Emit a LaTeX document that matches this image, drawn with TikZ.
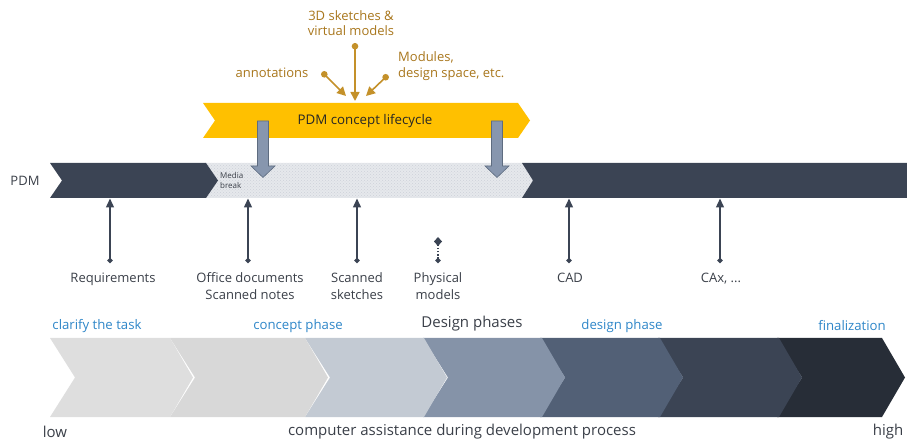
\documentclass[tikz,border=0pt]{standalone}
\usepackage{fontspec}
\setmainfont{Open Sans}
\usetikzlibrary{arrows.meta,patterns}
\definecolor{darkbar}{HTML}{3B4454}
\definecolor{labtext}{HTML}{3A3F48}
\definecolor{yel}{HTML}{FFC000}
\definecolor{gold}{HTML}{C4912A}
\definecolor{goldtext}{HTML}{A8761C}
\definecolor{phaseblue}{HTML}{2E86C8}
\definecolor{garrowfill}{HTML}{8796AE}
\definecolor{garrowline}{HTML}{5E6C80}
\definecolor{mbfill}{HTML}{E6E8EC}
\definecolor{dotcol}{HTML}{CDD2D9}
\definecolor{cA}{HTML}{DEDEDE}
\definecolor{cB}{HTML}{D8D8D8}
\definecolor{cC}{HTML}{C3CAD3}
\definecolor{cD}{HTML}{8593A8}
\definecolor{cE}{HTML}{526076}
\definecolor{cF}{HTML}{3B4454}
\definecolor{cG}{HTML}{272D37}
\tikzset{
  lab/.style={font=\fontsize{13}{16.5}\selectfont, text=labtext, align=center, inner sep=1pt},
  goldlab/.style={font=\fontsize{13}{15.5}\selectfont, text=goldtext, inner sep=1pt},
  phaselab/.style={font=\fontsize{13.2}{15}\selectfont, text=phaseblue, inner sep=1pt},
  bottomlab/.style={font=\fontsize{15}{17}\selectfont, text=labtext, inner sep=1pt},
  upconn/.style={draw=darkbar, line width=1.4pt, {Circle[length=5pt]}-{Triangle[length=9pt,width=8pt]}},
  dotconn/.style={draw=darkbar, line width=1.6pt, dash pattern=on 1.6pt off 1.6pt, {Circle[length=5pt]}-{Diamond[length=9pt,width=8pt,line cap=butt]}},
  goldconn/.style={draw=gold, line width=1.6pt, {Circle[length=6.5pt]}-{Stealth[length=9pt,width=9pt,inset=0pt]}},
  garrow/.style={fill=garrowfill, draw=garrowline, line width=0.6pt},
}
\newcommand{\chev}[3]{\fill[#3] (#1,338) -- (#2-23,338) -- (#2,377.5) -- (#2-23,417) -- (#1,417) -- (#1+25,377.5) -- cycle;}
\begin{document}
\begin{tikzpicture}[x=1pt,y=-1pt]
\useasboundingbox (0,0) rectangle (907,443);
% ---------- PDM bar ----------
\fill[mbfill] (205,163) -- (522,163) -- (533,180.5) -- (522,198) -- (205,198) -- cycle;
\fill[pattern=crosshatch dots, pattern color=dotcol] (205,163) -- (522,163) -- (533,180.5) -- (522,198) -- (205,198) -- cycle;
\fill[darkbar] (50,163) -- (206,163) -- (218,180.5) -- (206,198) -- (50,198) -- (62,180.5) -- cycle;
\fill[darkbar] (522,163) -- (907,163) -- (907,198) -- (522,198) -- (533,180.5) -- cycle;
\node[lab, font=\fontsize{13}{15}\selectfont] (pdm) at (25,180.5) {PDM};
\node[font=\fontsize{8}{9.5}\selectfont, text=labtext, align=left, anchor=west, inner sep=0pt] (media) at (220,180.5) {Media\\break};
% ---------- yellow lifecycle bar ----------
\fill[yel] (203,103) -- (518,103) -- (530,120.5) -- (518,138) -- (203,138) -- (215,120.5) -- cycle;
\node[lab, font=\fontsize{13.3}{15}\selectfont, text=black!85] (life) at (365,121) {PDM concept lifecycle};
% gray block arrows
\draw[garrow] (257.5,121) -- (268.5,121) -- (268.5,166) -- (275,166) -- (263,177.5) -- (251,166) -- (257.5,166) -- cycle;
\draw[garrow] (491.5,121) -- (502.5,121) -- (502.5,166) -- (509,166) -- (497,177.5) -- (485,166) -- (491.5,166) -- cycle;
% ---------- gold inputs ----------
\node[goldlab, align=center] (sk) at (351,23) {3D sketches \&\\virtual models};
\node[goldlab] (ann) at (272,73) {annotations};
\node[goldlab, align=left, anchor=west] (mod) at (397,66) {Modules,\\design space, etc.};
\coordinate (skS) at (355,43);
\coordinate (skE) at (355,101);
\coordinate (annS) at (322,72);
\coordinate (annE) at (346,96);
\coordinate (modS) at (388,75);
\coordinate (modE) at (366,96);
\draw[goldconn] (skS) -- (skE);
\draw[goldconn] (annS) -- (annE);
\draw[goldconn] (modS) -- (modE);
% ---------- media labels and upward connectors ----------
\node[lab, anchor=north] (req) at (113,271.5) {Requirements};
\node[lab, anchor=north] (off) at (250,271.5) {Office documents\\Scanned notes};
\node[lab, anchor=north] (ssk) at (357,271.5) {Scanned\\sketches};
\node[lab, anchor=north] (phy) at (438,271.5) {Physical\\models};
\node[lab, anchor=north] (cad) at (570,271.5) {CAD};
\node[lab, anchor=north] (cax) at (721,271.5) {CAx, ...};
\coordinate (reqS) at (110,263);  \coordinate (reqE) at (110,198.5);
\coordinate (offS) at (248,263);  \coordinate (offE) at (248,198.5);
\coordinate (sskS) at (357,263);  \coordinate (sskE) at (357,198.5);
\coordinate (phyS) at (438,263);  \coordinate (phyE) at (438,237);
\coordinate (cadS) at (569,263);  \coordinate (cadE) at (569,198.5);
\coordinate (caxS) at (720,263);  \coordinate (caxE) at (720,198.5);
\draw[upconn] (reqS) -- (reqE);
\draw[upconn] (offS) -- (offE);
\draw[upconn] (sskS) -- (sskE);
\draw[dotconn] (phyS) -- (phyE);
\draw[upconn] (cadS) -- (cadE);
\draw[upconn] (caxS) -- (caxE);
% ---------- design phase chevrons ----------
\chev{777}{905}{cG}
\chev{658}{802}{cF}
\chev{540}{683}{cE}
\chev{423}{565}{cD}
\chev{305}{447}{cC}
\chev{170}{328}{cB}
\chev{50}{193}{cA}
\node[phaselab] (p1) at (97,326) {clarify the task};
\node[phaselab] (p2) at (298,326) {concept phase};
\node[bottomlab] (dp) at (472,324) {Design phases};
\node[phaselab] (p3) at (622,326) {design phase};
\node[phaselab] (p4) at (852,326) {finalization};
\node[bottomlab] (low) at (55,432) {low};
\node[bottomlab] (ca) at (462,432) {computer assistance during development process};
\node[bottomlab] (high) at (888,432) {high};
\end{tikzpicture}
\end{document}
